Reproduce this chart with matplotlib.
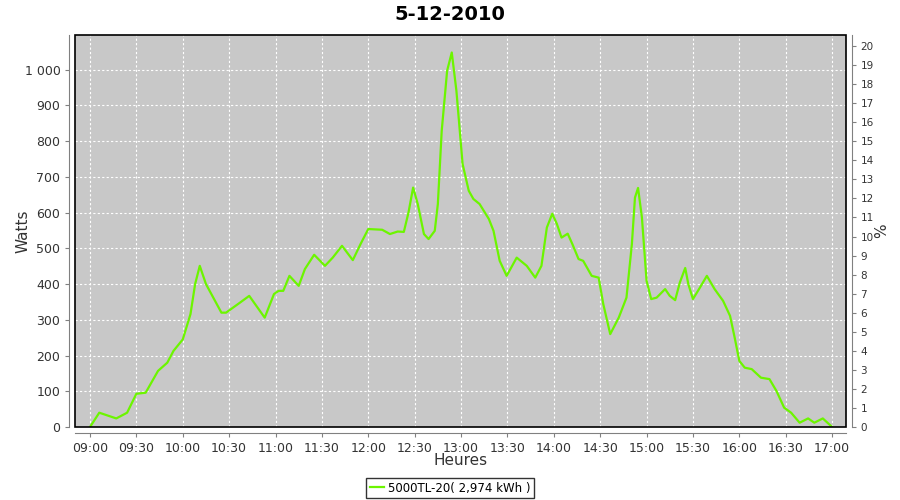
import matplotlib
matplotlib.use("Agg")
import matplotlib.pyplot as plt
from matplotlib.patches import Rectangle
from matplotlib.ticker import FuncFormatter

# minutes after 09:00 and power in watts
minutes = [0, 6, 17, 24, 30, 36, 44, 50, 54, 60, 65, 68, 71, 75, 85, 88, 97, 103,
           113, 119, 122, 125, 129, 135, 139, 145, 152, 157, 163, 170, 175, 180,
           189, 194, 199, 203, 206, 209, 212, 216, 219, 223, 225, 227.5, 231, 234,
           237, 241, 245, 248, 252, 258, 261, 265, 269.5, 276, 282.5, 288, 292,
           295.5, 299, 302, 305, 309, 312, 316, 319, 324.5, 329, 332, 336.5, 342,
           347, 350.5, 352.5, 354.5, 357, 360, 363, 366.5, 372, 375, 378.5, 381.5,
           385, 387, 390, 394.5, 399, 404, 409.5, 414, 417, 420, 423.5, 428, 434,
           439.5, 444, 449, 453.5, 459, 464.5, 468.5, 474, 480]
watts = [0, 40, 24, 40, 93, 96, 157, 180, 213, 245, 316, 400, 451, 400, 320, 320,
         348, 367, 306, 372, 381, 381, 423, 395, 442, 482, 451, 474, 507, 467, 512,
         554, 552, 540, 547, 546, 600, 670, 624, 540, 526, 549, 624, 829, 997, 1048,
         941, 736, 661, 638, 624, 582, 549, 465, 423, 474, 451, 418, 451, 558, 597,
         568, 530, 541, 512, 470, 465, 423, 418, 344, 260, 306, 362, 512, 642, 669,
         586, 409, 358, 362, 386, 367, 355, 404, 445, 400, 358, 390, 423, 386, 353,
         311, 250, 185, 166, 162, 138, 134, 101, 54, 40, 12, 24, 12, 24, 0]

tick_minutes = list(range(0, 481, 30))
tick_labels = ["09:00", "09:30", "10:00", "10:30", "11:00", "11:30", "12:00", "12:30",
               "13:00", "13:30", "14:00", "14:30", "15:00", "15:30", "16:00", "16:30",
               "17:00"]
series_label = "5000TL-20( 2,974 kWh )"

fig = plt.figure(figsize=(9, 5), dpi=100)
ax = fig.add_axes([75 / 900, 73 / 500, 771 / 900, 392 / 500])
ax.set_facecolor("#c8c8c8")

line, = ax.plot(minutes, watts, color="#6cf500", lw=1.6, label=series_label,
                solid_joinstyle="round")

ax.set_xlim(-9.7, 489)
ax.set_ylim(0, 1097)
ax.set_xticks(tick_minutes)
ax.set_xticklabels(tick_labels)
ax.set_yticks(range(0, 1001, 100))
ax.yaxis.set_major_formatter(FuncFormatter(lambda v, p: f"{int(v):,}".replace(",", " ")))
ax.grid(True, color="white", ls=(0, (2, 2)), lw=0.8)

for s in ["top", "right"]:
    ax.spines[s].set_visible(False)
for s in ["left", "bottom"]:
    ax.spines[s].set_position(("outward", 4))
    ax.spines[s].set_color("#808080")
ax.tick_params(colors="#808080", labelcolor="#333333", labelsize=9, length=3)
ax.add_patch(Rectangle((0, 0), 1, 1, transform=ax.transAxes, fill=False,
                       edgecolor="black", lw=1.2, clip_on=False, zorder=5))

ax2 = ax.twinx()
ax2.set_ylim(0, 20.58)
ax2.set_yticks(range(0, 21))
for s in ["top", "left", "bottom"]:
    ax2.spines[s].set_visible(False)
ax2.spines["right"].set_position(("outward", 4))
ax2.spines["right"].set_color("#808080")
ax2.tick_params(colors="#808080", labelcolor="#333333", labelsize=7.5, length=3)

ax.set_xlabel("Heures", fontsize=11, color="#333333", labelpad=-1)
ax.set_ylabel("Watts", fontsize=11, color="#333333", labelpad=-4)
ax2.set_ylabel("%", fontsize=11, color="#333333", labelpad=0)
fig.suptitle("5-12-2010", fontsize=14, fontweight="bold", y=0.99)

leg = fig.legend(handles=[line], loc="lower center", bbox_to_anchor=(0.5, -0.008),
                 frameon=True, fancybox=False, fontsize=8.5, handlelength=1.2,
                 handletextpad=0.3, borderpad=0.3)
leg.get_frame().set_edgecolor("black")
leg.get_frame().set_linewidth(1.0)

fig.savefig("out.png", dpi=100)
